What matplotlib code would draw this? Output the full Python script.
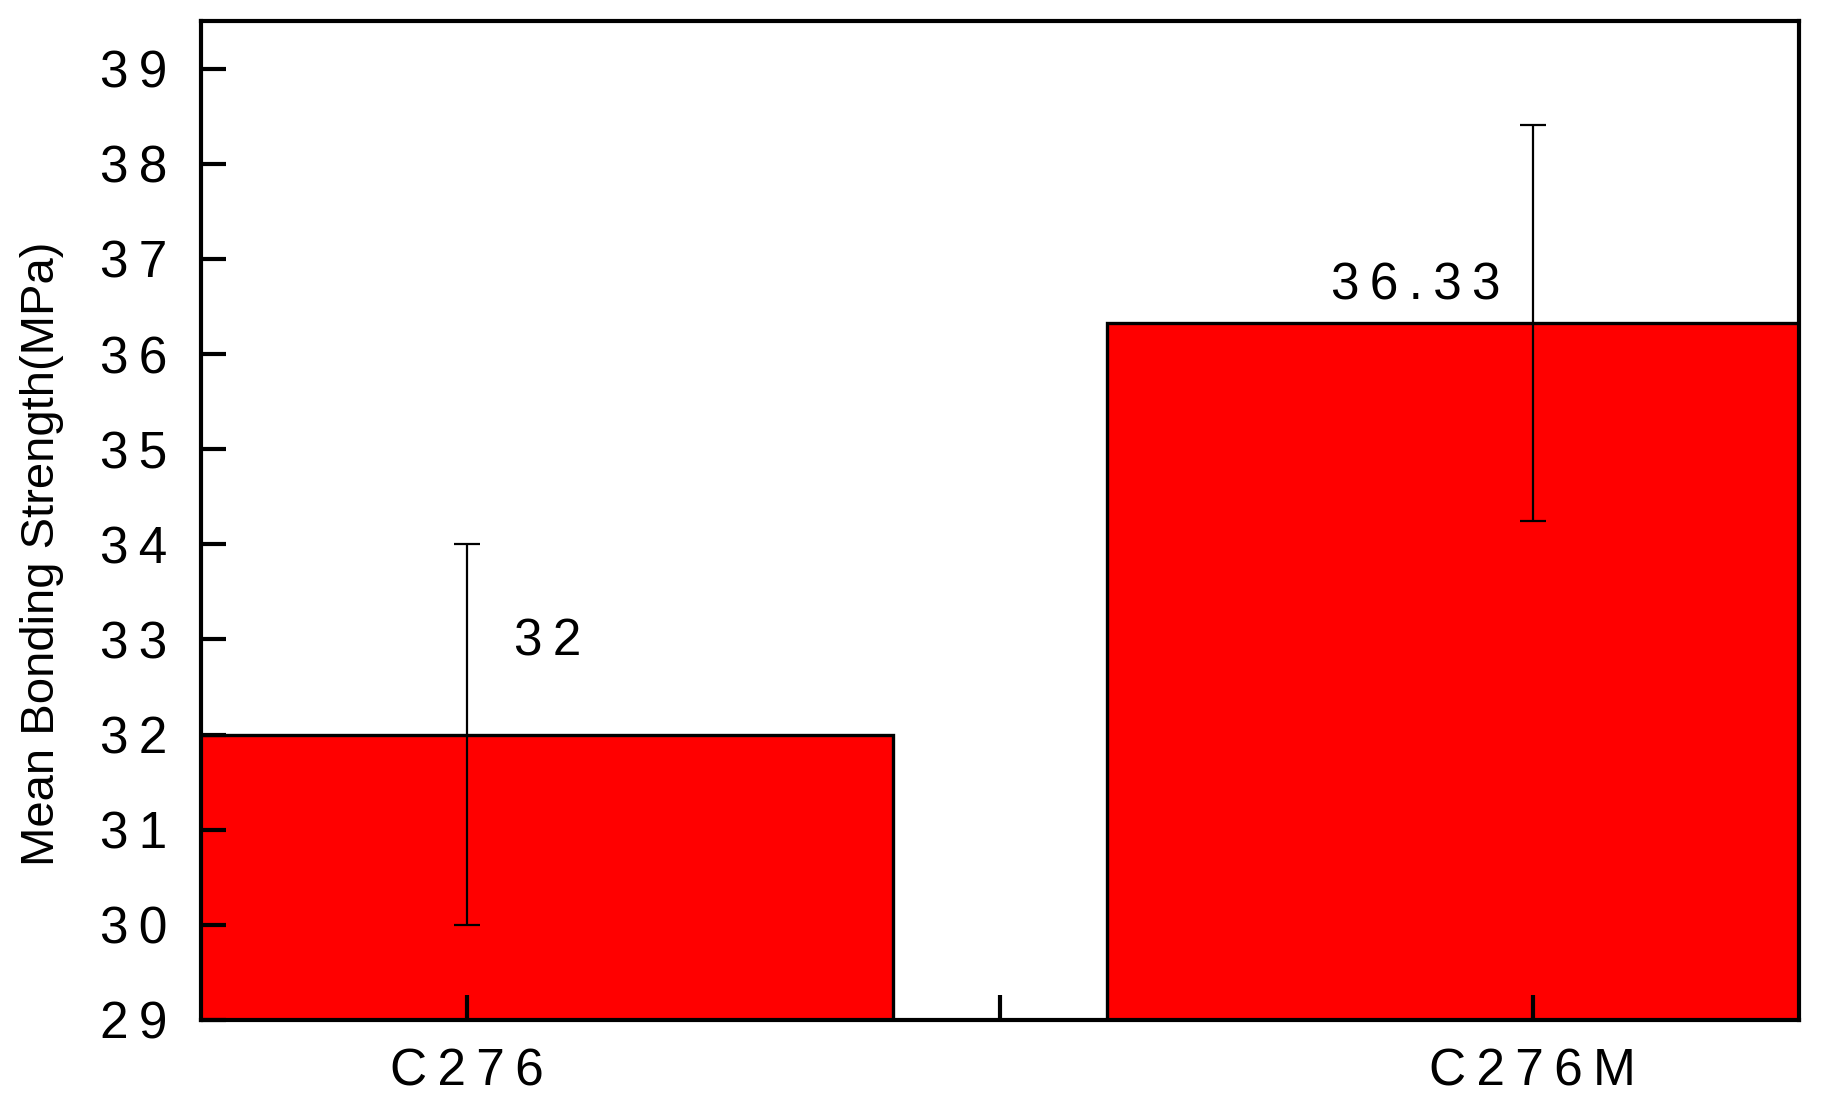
import matplotlib.pyplot as plt
import numpy as np

plt.rcParams['font.family'] = ['Liberation Sans', 'DejaVu Sans']

categories = ['C276', 'C276M']
means = [32.0, 36.33]
errors = [2.0, 2.08]
labels = ['32', '36.33']
yticks = list(range(29, 40))

def spaced(s):
    # Origin-style loose letter spacing
    return '\u2009'.join(s)

fig = plt.figure(figsize=(18.22, 11.19), dpi=100)
ax = fig.add_axes([0.1103, 0.0885, 0.8771, 0.8927])

x = np.arange(len(categories))
ax.bar(x, means, width=0.8, bottom=0, color='#ff0000', edgecolor='black',
       linewidth=2.4, zorder=2)
ax.errorbar(x, means, yerr=errors, fmt='none', ecolor='black',
            elinewidth=1.6, capsize=9.5, capthick=1.6, zorder=3)

# value labels
ax.text(x[0] + 0.075, means[0] + 0.97, spaced(labels[0]), fontsize=37,
        ha='center', va='center')
ax.text(x[1] - 0.11, means[1] + 0.39, spaced(labels[1]), fontsize=37,
        ha='center', va='center')

ax.set_xlim(-0.25, 1.25)
ax.set_ylim(29, 39.5)
ax.set_yticks(yticks)
ax.set_yticklabels([spaced(str(t)) for t in yticks])
ax.set_xticks([0, 0.5, 1])
ax.set_xticklabels([spaced(categories[0]), '', spaced(categories[1])])

ax.tick_params(axis='both', direction='in', length=18, width=3,
               labelsize=37)
ax.tick_params(axis='y', pad=24)
ax.tick_params(axis='x', pad=20)
ax.xaxis.set_zorder(5)
ax.yaxis.set_zorder(5)
for s in ax.spines.values():
    s.set_linewidth(3)
    s.set_zorder(6)

ax.set_ylabel('Mean Bonding Strength(MPa)', fontsize=34)
ax.yaxis.set_label_coords(-0.086, 0.467)

fig.savefig('out.png', dpi=100)
